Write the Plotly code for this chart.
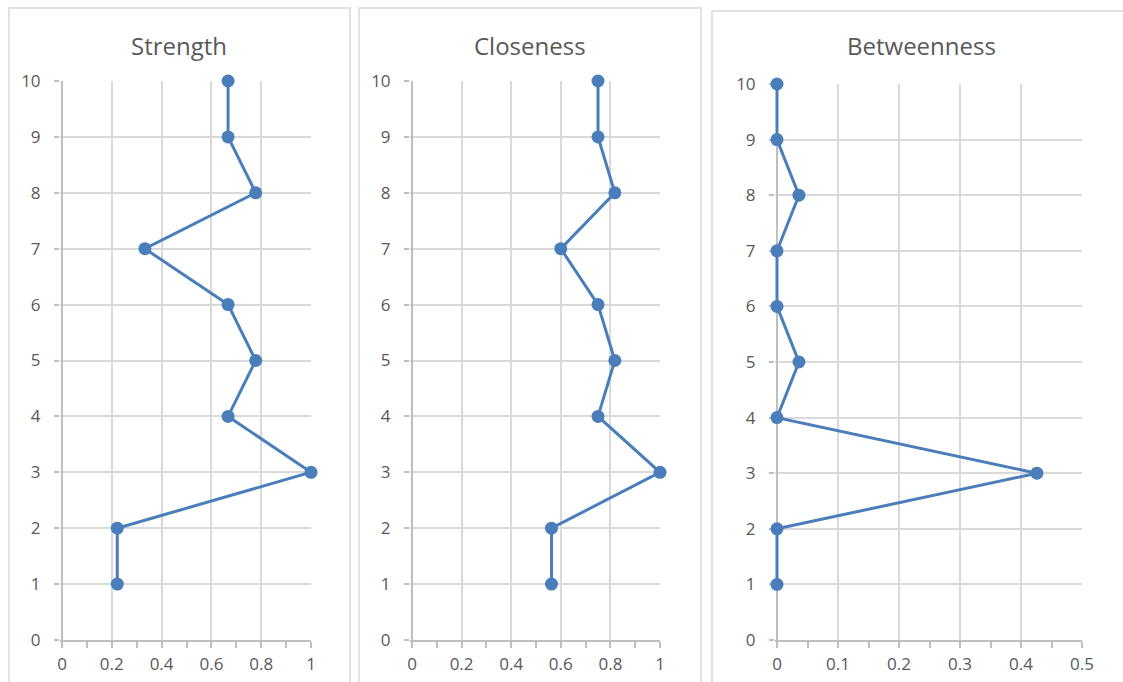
import plotly.graph_objects as go

nodes = [1, 2, 3, 4, 5, 6, 7, 8, 9, 10]
strength = [0.222, 0.222, 1.0, 0.667, 0.778, 0.667, 0.333, 0.778, 0.667, 0.667]
closeness = [0.5625, 0.5625, 1.0, 0.75, 0.818, 0.75, 0.6, 0.818, 0.75, 0.75]
betweenness = [0.0, 0.0, 0.426, 0.0, 0.036, 0.0, 0.0, 0.036, 0.0, 0.0]
titles = ["Strength", "Closeness", "Betweenness"]
x_ranges = [[0, 1], [0, 1], [0, 0.5]]
x_dticks = [0.2, 0.2, 0.1]

W, H = 1123, 682
LINE = "#4A7EBB"
GRID = "#D9D9D9"
AXIS = "#BFBFBF"
TXT = "#595959"
FONT = "Open Sans"

# plot-area pixel boxes (x0, x1, ytop, ybottom) and panel border boxes
plot_px = [(62, 311, 81, 640), (412, 660, 81, 640), (777, 1082, 84, 640)]
panel_px = [(9, 350, 8), (359, 701, 8), (712, 1140, 11)]
title_cx = [179, 530, 921]
PAD = 2  # px of extra room left of x=0 so a line lying on x=0 is not clipped

fig = go.Figure()
series = [strength, closeness, betweenness]
for i, vals in enumerate(series):
    n = "" if i == 0 else str(i + 1)
    fig.add_trace(go.Scatter(
        x=vals, y=nodes, mode="lines+markers",
        line=dict(color=LINE, width=3),
        marker=dict(color=LINE, size=13),
        cliponaxis=False, showlegend=False,
        xaxis="x" + n, yaxis="y" + n,
    ))
    x0, x1, yt, yb = plot_px[i]
    lo, hi = x_ranges[i]
    unit = (hi - lo) / (x1 - x0)
    xa = dict(
        domain=[(x0 - PAD) / W, x1 / W], range=[lo - PAD * unit, hi],
        dtick=x_dticks[i], tick0=0,
        showgrid=True, gridcolor=GRID, gridwidth=1.5,
        showline=True, linecolor=AXIS, linewidth=1.5,
        ticks="outside", ticklen=6, tickcolor=AXIS, tickwidth=1.5,
        minor=dict(dtick=x_dticks[i] / 2, ticks="outside", ticklen=6,
                   tickcolor=AXIS, tickwidth=1.5, showgrid=False),
        zeroline=True, zerolinecolor=AXIS, zerolinewidth=1.5,
        fixedrange=True, automargin=False,
        tickfont=dict(family=FONT, size=17, color=TXT),
        ticklabelstandoff=2,
        anchor="y" + n, layer="below traces",
    )
    ya = dict(
        domain=[1 - yb / H, 1 - yt / H], range=[0, 10], dtick=1, tick0=0,
        showgrid=True, gridcolor=GRID, gridwidth=1.5,
        showline=False,
        ticks="outside", ticklen=7 - PAD, tickcolor=AXIS, tickwidth=1.5,
        zeroline=False, fixedrange=True, automargin=False,
        tickfont=dict(family=FONT, size=17, color=TXT),
        ticklabelstandoff=10,
        anchor="x" + n, layer="below traces",
    )
    fig.layout["xaxis" + n] = xa
    fig.layout["yaxis" + n] = ya
    px0, px1, pt = panel_px[i]
    fig.add_shape(type="rect", xref="paper", yref="paper",
                  x0=px0 / W, x1=px1 / W, y0=-0.05, y1=1 - pt / H,
                  line=dict(color="#D9D9D9", width=1.5), layer="below")
    fig.add_annotation(text=titles[i], xref="paper", yref="paper",
                       x=title_cx[i] / W, y=1 - 46 / H, showarrow=False,
                       xanchor="center", yanchor="middle",
                       font=dict(family=FONT, size=24, color=TXT))

fig.update_layout(
    template="none",
    width=W, height=H, margin=dict(l=0, r=0, t=0, b=0, autoexpand=False),
    paper_bgcolor="white", plot_bgcolor="white",
)
fig.write_html("out.html", config={"displayModeBar": False},
               post_script="document.body.style.margin='0px';")
